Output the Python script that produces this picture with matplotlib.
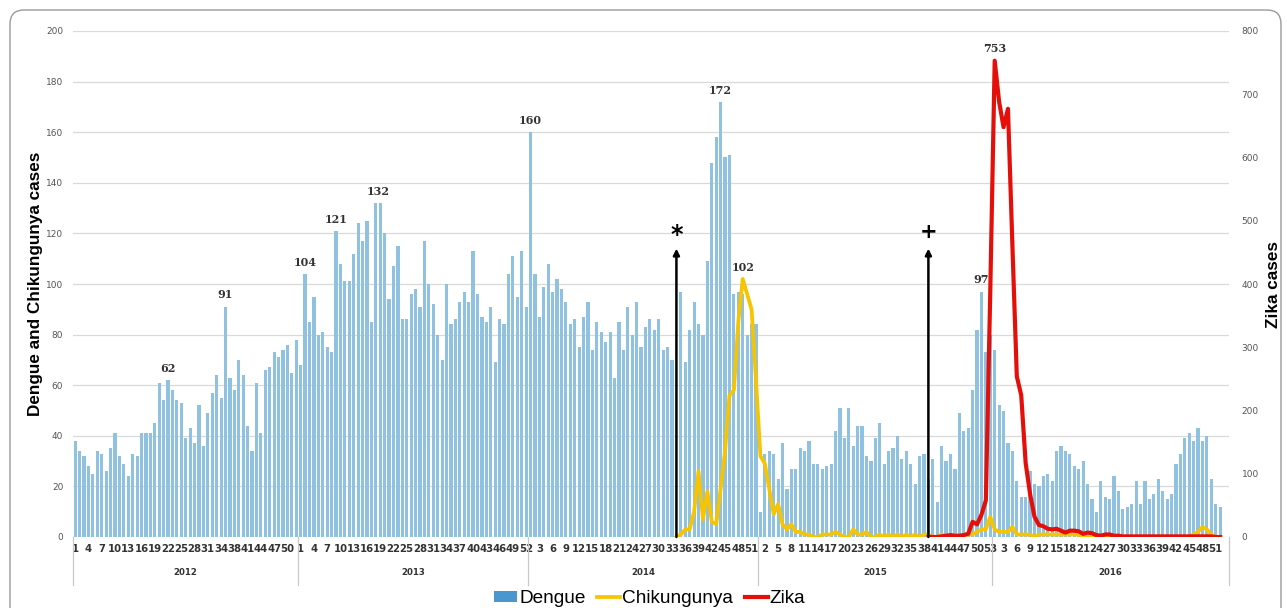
import numpy as np
import matplotlib
matplotlib.use("Agg")
import matplotlib.pyplot as plt
from matplotlib.patches import FancyBboxPatch, Patch
from matplotlib.lines import Line2D
import matplotlib.transforms as mtrans

# ---------------- data ----------------
years = ["2012", "2013", "2014", "2015", "2016"]
weeks_2012 = list(range(1, 35)) + list(range(36, 53))
weeks_2013 = list(range(1, 53))
weeks_2014 = list(range(1, 53))
weeks_2015 = list(range(1, 54))
weeks_2016 = list(range(1, 53))

dengue_2012 = [38, 34, 32, 28, 25, 34, 33, 26, 35, 41, 32, 29, 24, 33, 32, 41, 41, 41, 45, 61,
               54, 62, 58, 54, 53, 39, 43, 37, 52, 36, 49, 57, 64, 55, 91, 63, 58, 70, 64, 44,
               34, 61, 41, 66, 67, 73, 71, 74, 76, 65, 78]
dengue_2013 = [68, 104, 85, 95, 80, 81, 75, 73, 121, 108, 101, 101, 112, 124, 117, 125, 85, 132, 132, 120,
               94, 107, 115, 86, 86, 96, 98, 91, 117, 100, 92, 80, 70, 100, 84, 86, 93, 97, 93, 113,
               96, 87, 85, 91, 69, 86, 84, 104, 111, 95, 113, 91]
dengue_2014 = [160, 104, 87, 99, 108, 97, 102, 98, 93, 84, 86, 75, 87, 93, 74, 85, 81, 77, 81, 63,
               85, 74, 91, 80, 93, 75, 83, 86, 82, 86, 74, 75, 70, 0, 97, 69, 82, 93, 84, 80,
               109, 148, 158, 172, 150, 151, 96, 97, 96, 80, 84, 84]
dengue_2015 = [10, 33, 34, 33, 23, 37, 19, 27, 27, 35, 34, 38, 29, 29, 27, 28, 29, 42, 51, 39,
               51, 36, 44, 44, 32, 30, 39, 45, 29, 34, 35, 40, 31, 34, 29, 21, 32, 33, 23, 31,
               14, 36, 30, 33, 27, 49, 42, 43, 58, 82, 97, 73, 80]
dengue_2016 = [74, 52, 50, 37, 34, 22, 16, 16, 26, 21, 20, 24, 25, 22, 34, 36, 34, 33, 28, 27,
               30, 21, 15, 10, 22, 16, 15, 24, 18, 11, 12, 13, 22, 13, 22, 15, 17, 23, 18, 15,
               17, 29, 33, 39, 41, 38, 43, 38, 40, 23, 13, 12]

nan = np.nan
chik_2012 = [nan] * 51
chik_2013 = [nan] * 52
chik_2014 = [nan] * 33 + [0, 1, 3, 3, 10, 26, 7, 18, 6, 5, 19, 34, 56, 58, 85, 102, 96, 90, 62]
chik_2015 = [32, 29, 19, 9, 13, 5, 3, 5, 2, 2, 1, 1, 0, 0, 1, 1, 1, 2, 1, 0,
             0, 3, 1, 1, 2, 0, 0, 1, 0, 1, 0, 1, 0, 1, 0, 1, 0, 1, 1, 0,
             0, 1, 0, 0, 1, 0, 1, 1, 1, 2, 3, 3, 8]
chik_2016 = [3, 2, 2, 2, 4, 1, 1, 1, 1, 0, 1, 1, 1, 1, 1, 1, 1, 1, 1, 1,
             0, 0, 0, 0, 0, 0, 0, 0, 0, 0, 0, 0, 0, 0, 0, 0, 0, 0, 0, 0,
             0, 0, 0, 0, 0, 1, 2, 4, 3, 1, 0, 0]

zika_2012 = [nan] * 51
zika_2013 = [nan] * 52
zika_2014 = [nan] * 52
zika_2015 = [nan] * 38 + [0, 0, 0, 1, 2, 3, 2, 2, 3, 5, 24, 20, 35, 58, 390]
zika_2016 = [753, 688, 648, 677, 462, 254, 224, 117, 68, 32, 19, 17, 13, 12, 13, 10, 7, 10, 10, 9,
             5, 7, 6, 3, 2, 4, 4, 2, 2, 1, 1, 1, 1, 1, 1, 1, 1, 1, 1, 1,
             1, 1, 1, 1, 1, 1, 1, 1, 1, 1, 0, 0]

# peak annotations: (year, week)
dengue_peaks = [("2012", 22), ("2012", 36), ("2013", 2), ("2013", 9), ("2014", 1),
                ("2014", 44), ("2015", 51)]
peak_132 = ("2013", [18, 19])
chik_peak = ("2014", 49)
zika_peak = ("2016", 1)

# ---------------- assemble ----------------
weeks_by_year = [weeks_2012, weeks_2013, weeks_2014, weeks_2015, weeks_2016]
dengue = np.array(dengue_2012 + dengue_2013 + dengue_2014 + dengue_2015 + dengue_2016, float)
chik = np.array(chik_2012 + chik_2013 + chik_2014 + chik_2015 + chik_2016, float)
zika = np.array(zika_2012 + zika_2013 + zika_2014 + zika_2015 + zika_2016, float)
week_labels = [w for ws in weeks_by_year for w in ws]
year_of = [y for y, ws in zip(years, weeks_by_year) for _ in ws]
x = np.arange(len(dengue))

def idx(year, week):
    for i, (yy, ww) in enumerate(zip(year_of, week_labels)):
        if yy == year and ww == week:
            return i
    raise ValueError

# ---------------- figure ----------------
W, H = 1287, 608
fig = plt.figure(figsize=(W / 100, H / 100), dpi=100)
L, R, T, B = 73, 1229, 31, 537
ax = fig.add_axes([L / W, (H - B) / H, (R - L) / W, (B - T) / H])

BAR = "#8FC1E1"
YEL = "#F6C400"
RED = "#E50F0A"
GRID = "#D9D9D9"
TXT = "#333333"

ax.bar(x, dengue, width=0.72, color=BAR, zorder=2, linewidth=0)
ax.plot(x, chik, color=YEL, lw=2.7, zorder=3, solid_joinstyle="round")
ax.set_xlim(-0.5, 261.0)
ax.set_ylim(0, 200)
ax.set_yticks(np.arange(0, 201, 20))
ax.yaxis.grid(True, color=GRID, lw=0.9)
ax.set_axisbelow(True)
for s in ax.spines.values():
    s.set_visible(False)
ax.tick_params(axis="y", length=0, labelsize=6.5, labelcolor="#555555", pad=7)

ticks = x[::3]
ax.set_xticks(ticks)
ax.set_xticklabels([str(week_labels[i]) for i in ticks],
                   fontfamily=["Liberation Sans Narrow", "DejaVu Sans"],
                   fontweight="bold", fontsize=7.3, color=TXT)
ax.tick_params(axis="x", length=0, pad=5)

# year separators & labels
bounds = [-0.5]
start = 0
for ws in weeks_by_year:
    start += len(ws)
    bounds.append(start - 0.5)
bounds[-1] = 261.0
tr = ax.get_xaxis_transform()
for b in bounds:
    ax.plot([b, b], [0, -0.095], transform=tr, color="#C8C8C8", lw=0.9, clip_on=False)
for yname, b0, b1 in zip(years, bounds[:-1], bounds[1:]):
    ax.text((b0 + b1) / 2, -0.071, yname, transform=tr, ha="center", va="center",
            fontsize=6.2, fontweight="bold", color=TXT)

ax.set_ylabel("Dengue and Chikungunya cases", fontsize=12.3, fontweight="bold",
              fontfamily=["Liberation Sans", "DejaVu Sans"], labelpad=2)

# secondary axis
ax2 = ax.twinx()
ax2.set_xlim(ax.get_xlim())
ax2.plot(x, zika, color=RED, lw=3.0, zorder=4, solid_joinstyle="round")
ax2.set_ylim(0, 800)
ax2.set_yticks(np.arange(0, 801, 100))
for s in ax2.spines.values():
    s.set_visible(False)
ax2.tick_params(axis="y", length=0, labelsize=6.5, labelcolor="#555555", pad=9)
ax2.set_ylabel("Zika cases", fontsize=12.3, fontweight="bold", rotation=90,
               fontfamily=["Liberation Sans", "DejaVu Sans"], labelpad=5)

# data labels
lab_kw = dict(textcoords="offset points", xytext=(0, 8.5), ha="center", va="center",
              fontsize=8, fontweight="bold", color=TXT, fontfamily="DejaVu Serif")
for yy, ww in dengue_peaks:
    i = idx(yy, ww)
    ax.annotate(f"{int(dengue[i])}", (i, dengue[i]), zorder=6, **lab_kw)
i0, i1 = idx(peak_132[0], peak_132[1][0]), idx(peak_132[0], peak_132[1][1])
ax.annotate(f"{int(dengue[i0])}", ((i0 + i1) / 2, dengue[i0]), zorder=6, **lab_kw)
ic = idx(*chik_peak)
ax.annotate(f"{int(chik[ic])}", (ic, chik[ic]), zorder=6, **lab_kw)
iz = idx(*zika_peak)
ax2.annotate(f"{int(zika[iz])}", (iz, zika[iz]), zorder=6, **lab_kw)

# arrows marking introductions
star_i = idx("2014", 34)
plus_i = idx("2015", 39)
for xi, sym, dy in [(star_i, "*", 119.5), (plus_i, "+", 120.5)]:
    ax2.annotate("", xy=(xi, 114 * 4), xytext=(xi, 0),
                 arrowprops=dict(arrowstyle="-|>", color="black", lw=1.8,
                                 mutation_scale=9, shrinkA=0, shrinkB=0), zorder=7)
    ax2.text(xi, dy * 4, sym, ha="center", va="center", fontsize=17 if sym == "*" else 15,
             fontweight="bold", color="black", zorder=7)

# legend
handles = [Patch(facecolor="#4A97CF", edgecolor="none"),
           Line2D([], [], color=YEL, lw=2.7),
           Line2D([], [], color=RED, lw=3.0)]
fig.legend(handles, ["Dengue", "Chikungunya", "Zika"], loc="center",
           bbox_to_anchor=(0.505, 0.0155), ncol=3, frameon=False,
           prop=dict(family=["Liberation Sans", "DejaVu Sans"], size=13.7),
           handlelength=1.2, handletextpad=0.12, columnspacing=0.6,
           handleheight=0.55, borderpad=0, borderaxespad=0)

# rounded frame
frame = FancyBboxPatch((10, -30), 1271, H - 10 + 30,
                       boxstyle="round,pad=0,rounding_size=14",
                       transform=mtrans.IdentityTransform(),
                       facecolor="none", edgecolor="#9A9A9A", lw=1.0)
fig.patches.append(frame)

fig.savefig("out.png", dpi=100)
